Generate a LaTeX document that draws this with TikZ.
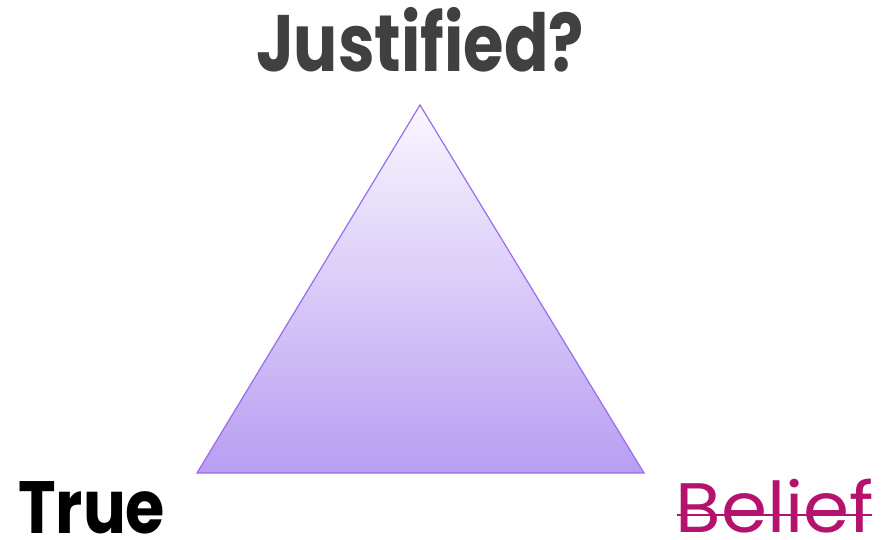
\documentclass[tikz,border=0pt]{standalone}
\usepackage{fontspec}
\setmainfont{Poppins}
\definecolor{jgray}{HTML}{404040}
\definecolor{bmag}{HTML}{B3136C}
\definecolor{tstroke}{HTML}{9B6BEE}
\definecolor{ttop}{HTML}{F9F7FE}
\definecolor{tbot}{HTML}{B89EF2}
\begin{document}
\begin{tikzpicture}[x=1pt,y=1pt,
  lbl/.style={inner sep=0pt,anchor=base},
  tri/.style={draw=tstroke,line width=1.2pt,top color=ttop,bottom color=tbot,line join=miter}]
\useasboundingbox (0,0) rectangle (881,539);
\coordinate (apex) at (420,434);
\coordinate (bl) at (197,66);
\coordinate (br) at (644,66);
\path[tri] (apex) -- (br) -- (bl) -- cycle;
\node[lbl,text=jgray,font=\bfseries\fontsize{80}{90}\selectfont,xscale=0.82,transform shape] (just) at (420,467) {Justified?};
\node[lbl,anchor=base west,text=black,font=\bfseries\fontsize{74}{80}\selectfont,xscale=0.86,transform shape] (true) at (18,6) {True};
\node[lbl,text=bmag,font=\fontsize{70}{80}\selectfont,xscale=1.06,transform shape] (belief) at (775,7) {Belief};
\coordinate (sl) at (677,24);
\coordinate (sr) at (872,24);
\draw[bmag,line width=2.6pt] (sl) -- (sr);
\end{tikzpicture}
\end{document}
